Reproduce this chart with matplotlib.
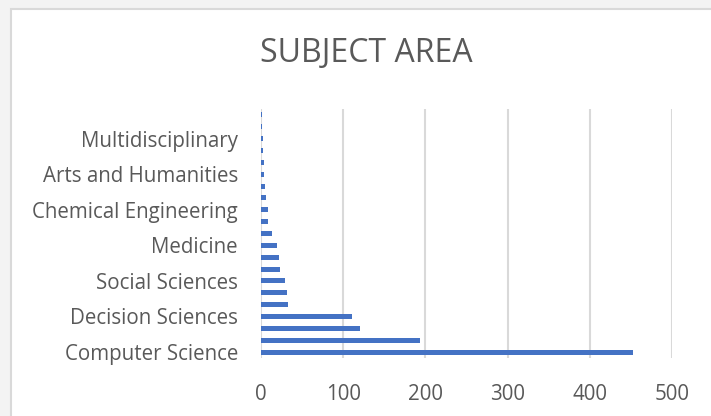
import matplotlib
matplotlib.use("Agg")
import matplotlib.pyplot as plt
from matplotlib.patches import Rectangle
from matplotlib import font_manager

# Publication counts per subject area, listed from the bottom bar upward
counts = [453, 194, 121, 111, 33, 32, 29, 23, 22, 19, 13, 9, 8, 6, 5, 4, 4, 2, 2, 1, 1]
# Axis labels shown on every third bar, starting with the bottom one
shown_labels = ["Computer Science", "Decision Sciences", "Social Sciences", "Medicine",
                "Chemical Engineering", "Arts and Humanities", "Multidisciplinary"]
x_ticks = [0, 100, 200, 300, 400, 500]
title = "SUBJECT AREA"

names = {f.name for f in font_manager.fontManager.ttflist}
font = "Liberation Sans Narrow" if "Liberation Sans Narrow" in names else "Open Sans"
plt.rcParams["font.family"] = [font, "DejaVu Sans"]

W, H, DPI = 711, 416, 100
fig = plt.figure(figsize=(W / DPI, H / DPI), dpi=DPI, facecolor="#f3f3f3")

# White chart area with a light border, kept behind the axes
fig.patches.append(Rectangle((11 / W, -0.05), 1.1, 1 - 9 / H + 0.05, transform=fig.transFigure,
                             facecolor="white", edgecolor="#d9d9d9", linewidth=1.5, zorder=-10))

ax = fig.add_axes([261 / W, 1 - 358 / H, (672 - 261) / W, (358 - 109) / H])
ax.set_facecolor("none")
ax.set_zorder(5)

pos = list(range(len(counts)))
ax.barh(pos, counts, height=0.42, color="#4472c4", zorder=3)

ax.set_xlim(0, 500)
ax.set_ylim(-0.5, len(counts) - 0.5)
ax.set_xticks(x_ticks)
ax.set_xticklabels([str(t) for t in x_ticks])
ax.set_yticks(pos[::3])
ax.set_yticklabels(shown_labels)

ax.grid(axis="x", color="#d9d9d9", linewidth=1.5, zorder=0)
ax.set_axisbelow(True)
for s in ax.spines.values():
    s.set_visible(False)
ax.tick_params(axis="both", length=0, colors="#595959", labelsize=14.8)
ax.tick_params(axis="x", pad=19)
ax.tick_params(axis="y", pad=16.5)

fig.text(366 / W, 1 - 54 / H, title, ha="center", va="center", fontsize=23, color="#595959")

fig.savefig("out.png", dpi=DPI, facecolor=fig.get_facecolor())
